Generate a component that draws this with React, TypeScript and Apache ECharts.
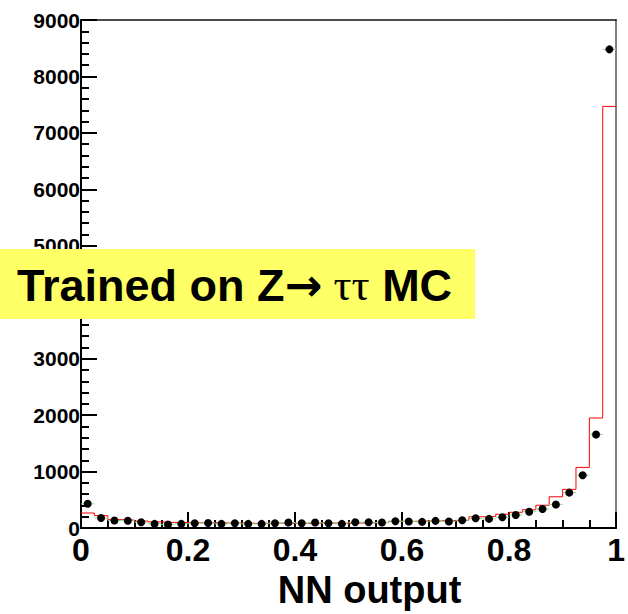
import React, { useEffect, useRef } from "react";
import * as echarts from "echarts";

// 40 bins of width 0.025 over NN output [0, 1]
const BIN_WIDTH = 0.025;
const dataCounts = [
  430, 180, 135, 130, 105, 75, 65, 75, 87, 90,
  75, 87, 75, 75, 87, 99, 87, 99, 87, 75,
  105, 105, 99, 122, 116, 110, 128, 116, 140, 175,
  163, 192, 233, 291, 337, 419, 629, 937, 1659, 8480,
];
const mcCounts = [
  267, 221, 150, 140, 125, 110, 100, 100, 95, 95,
  90, 90, 85, 85, 90, 85, 85, 90, 90, 85,
  90, 95, 100, 120, 120, 125, 130, 130, 140, 200,
  205, 245, 280, 325, 405, 555, 686, 1075, 1950, 7470,
];
const yTickMax = 9000;
const yTickStep = 1000;
const xTickStep = 0.2;
const axisTitle = "NN output";

const FONT = "'Liberation Sans', Arial, Helvetica, sans-serif";

const shadow = {
  textShadowColor: "#fff",
  textShadowOffsetX: 2,
  textShadowOffsetY: 2,
  textShadowBlur: 0,
};

export default function App() {
  const ref = useRef<HTMLDivElement>(null);

  useEffect(() => {
    if (!ref.current) return;
    const chart = echarts.init(ref.current, null, { renderer: "svg" });

    const lowEdges = mcCounts.map((_, i) => i * BIN_WIDTH);
    const stepData = mcCounts.map((v, i) => [lowEdges[i], v]);
    stepData.push([lowEdges[lowEdges.length - 1] + BIN_WIDTH, mcCounts[mcCounts.length - 1]]);
    const dotData = dataCounts.map((v, i) => [lowEdges[i] + BIN_WIDTH / 2, v]);
    const errData = dataCounts.map((v, i) => [lowEdges[i], lowEdges[i] + BIN_WIDTH, v]);

    chart.setOption({
      animation: false,
      grid: { left: 81, right: 9, top: 20, bottom: 78, containLabel: false },
      xAxis: [
        {
          type: "value",
          min: 0,
          max: 1,
          interval: xTickStep,
          position: "bottom",
          name: axisTitle,
          nameLocation: "middle",
          nameGap: 36,
          nameTextStyle: {
            fontFamily: FONT,
            fontWeight: "bold",
            fontSize: 38,
            color: "#000",
            padding: [0, 0, 0, 42],
          },
          axisLine: { show: true, onZero: false, lineStyle: { color: "#000", width: 2 } },
          axisTick: { show: true, inside: true, length: 16, lineStyle: { color: "#000", width: 2 } },
          minorTick: { show: true, splitNumber: 4, length: 8, lineStyle: { color: "#000", width: 2 } },
          splitLine: { show: false },
          axisLabel: {
            fontFamily: FONT,
            fontWeight: "bold",
            fontSize: 32,
            color: "#000",
            margin: 6,
            formatter: (v: number) => String(v),
          },
        },
        {
          type: "value",
          min: 0,
          max: 1,
          position: "top",
          axisLine: { show: true, onZero: false, lineStyle: { color: "#111", width: 1.5 } },
          axisTick: { show: false },
          axisLabel: { show: false },
          splitLine: { show: false },
        },
      ],
      yAxis: [
        {
          type: "value",
          min: 0,
          max: yTickMax,
          interval: yTickStep,
          position: "left",
          axisLine: { show: true, onZero: false, lineStyle: { color: "#000", width: 2 } },
          axisTick: { show: true, inside: true, length: 16, lineStyle: { color: "#000", width: 2 } },
          minorTick: { show: true, splitNumber: 5, length: 8, lineStyle: { color: "#000", width: 2 } },
          splitLine: { show: false },
          axisLabel: {
            fontFamily: FONT,
            fontWeight: "bold",
            fontSize: 21,
            color: "#000",
            margin: 1,
            formatter: (v: number) => String(v),
          },
        },
        {
          type: "value",
          min: 0,
          max: yTickMax,
          position: "right",
          axisLine: { show: true, onZero: false, lineStyle: { color: "#808080", width: 2 } },
          axisTick: { show: false },
          axisLabel: { show: false },
          splitLine: { show: false },
        },
      ],
      series: [
        {
          type: "line",
          data: stepData,
          step: "end",
          symbol: "none",
          lineStyle: { color: "#ff0000", width: 1 },
          z: 2,
        },
        {
          type: "custom",
          data: errData,
          renderItem: (params: any, api: any) => {
            const p1 = api.coord([api.value(0), api.value(2)]);
            const p2 = api.coord([api.value(1), api.value(2)]);
            return {
              type: "line",
              shape: { x1: p1[0], y1: p1[1], x2: p2[0], y2: p2[1] },
              style: { stroke: "#88dd88", lineWidth: 1 },
            };
          },
          z: 3,
        },
        {
          type: "scatter",
          data: dotData,
          symbol: "circle",
          symbolSize: 8,
          itemStyle: { color: "#000", opacity: 1 },
          z: 4,
        },
      ],
      graphic: [
        {
          type: "rect",
          z: 100,
          zlevel: 0,
          shape: { x: 0, y: 249, width: 475, height: 70 },
          style: { fill: "#ffff66" },
        },
        {
          type: "text",
          z: 101,
          x: 17,
          y: 285,
          style: {
            text: "{b|Trained on Z}{a|→}{t| ττ}{b| MC}",
            verticalAlign: "middle",
            align: "left",
            rich: {
              b: { fontFamily: FONT, fontWeight: "bold", fontSize: 45, fill: "#000", ...shadow },
              a: { fontFamily: "'DejaVu Sans', sans-serif", fontWeight: "bold", fontSize: 45, fill: "#000", ...shadow },
              t: { fontFamily: "'Liberation Serif', 'DejaVu Serif', serif", fontWeight: "normal", fontSize: 45, fill: "#000", ...shadow },
            },
          },
        },
      ],
    });

    return () => chart.dispose();
  }, []);

  return (
    <div
      ref={ref}
      style={{ position: "fixed", left: 0, top: 0, width: 628, height: 614, background: "#fff" }}
    />
  );
}
